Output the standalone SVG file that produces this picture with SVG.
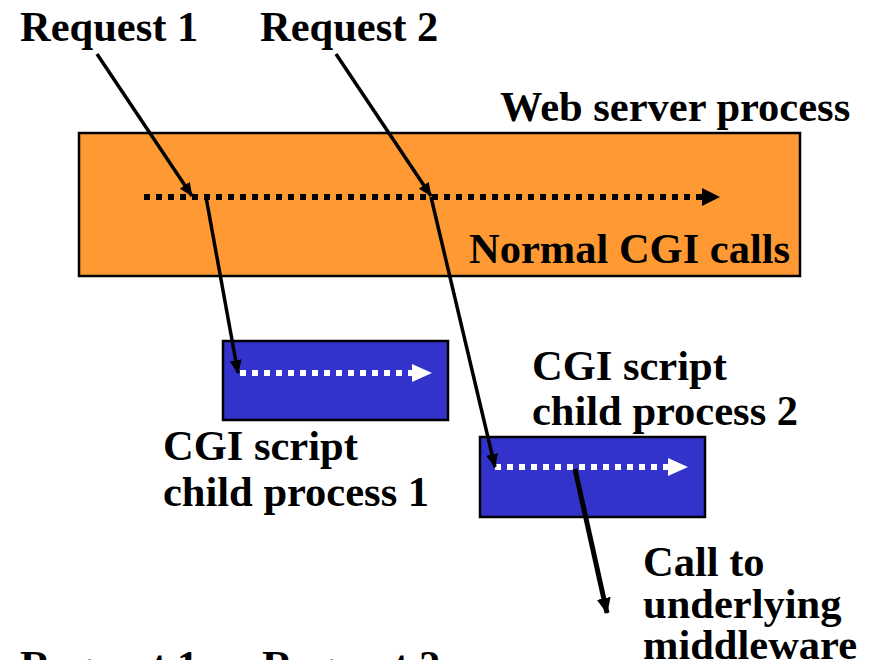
<svg xmlns="http://www.w3.org/2000/svg" width="873" height="660" viewBox="0 0 873 660">
  <style>
    .lbl { font-family: "Liberation Serif", "Times New Roman", serif; font-weight: bold; font-size: 42.5px; fill: #000; }
    .box { stroke: #000; stroke-width: 2.5; }
    .server { fill: #FF9933; }
    .child { fill: #3333CC; }
    .flow-k { stroke: #000; stroke-width: 6; stroke-dasharray: 6 6; fill: none; }
    .flow-w { stroke: #fff; stroke-width: 6; stroke-dasharray: 6 6; fill: none; }
    .call { stroke: #000; stroke-width: 3.5; fill: none; marker-end: url(#head); }
    .call-thick { stroke: #000; stroke-width: 5; fill: none; marker-end: url(#head-big); }
  </style>
  <defs>
    <marker id="head" markerUnits="userSpaceOnUse" markerWidth="14" markerHeight="12" refX="13" refY="6" orient="auto">
      <path d="M0,0 L14,6 L0,12 z" fill="#000"/>
    </marker>
    <marker id="head-big" markerUnits="userSpaceOnUse" markerWidth="16" markerHeight="14" refX="15" refY="7" orient="auto">
      <path d="M0,0 L16,7 L0,14 z" fill="#000"/>
    </marker>
  </defs>

  <rect width="873" height="660" fill="#fff"/>

  <!-- web server process -->
  <g id="web-server">
    <rect class="box server" x="79" y="133" width="721" height="143"/>
    <line class="flow-k" x1="144" y1="197" x2="703" y2="197"/>
    <polygon points="702,188 720,197 702,206" fill="#000"/>
    <text class="lbl" x="500" y="121">Web server process</text>
    <text class="lbl" x="469" y="263">Normal CGI calls</text>
  </g>

  <!-- CGI child process 1 -->
  <g id="child-1">
    <rect class="box child" x="223" y="341" width="225" height="79"/>
    <line class="flow-w" x1="240" y1="373" x2="413" y2="373"/>
    <polygon points="412,364 432,373 412,382" fill="#fff"/>
    <text class="lbl" x="163" y="460">CGI script</text>
    <text class="lbl" x="163" y="506">child process 1</text>
  </g>

  <!-- CGI child process 2 -->
  <g id="child-2">
    <rect class="box child" x="480" y="437" width="225" height="80"/>
    <line class="flow-w" x1="495" y1="467" x2="669" y2="467"/>
    <polygon points="668,458 688,467 668,476" fill="#fff"/>
    <text class="lbl" x="532" y="380">CGI script</text>
    <text class="lbl" x="532" y="425">child process 2</text>
  </g>

  <!-- request labels -->
  <g id="request-1">
    <text class="lbl" x="20" y="41">Request 1</text>
  </g>
  <g id="request-2">
    <text class="lbl" x="260" y="41">Request 2</text>
  </g>
  <g id="request-1-next">
    <text class="lbl" x="20" y="680">Request 1</text>
  </g>
  <g id="request-2-next">
    <text class="lbl" x="262" y="680">Request 2</text>
  </g>

  <!-- middleware label -->
  <g id="middleware">
    <text class="lbl" x="643" y="576">Call to</text>
    <text class="lbl" x="643" y="618">underlying</text>
    <text class="lbl" x="643" y="659">middleware</text>
  </g>

  <!-- connectors -->
  <g id="connectors">
    <line class="call" x1="97" y1="54" x2="192" y2="196"/>
    <line class="call" x1="336" y1="54" x2="431" y2="196"/>
    <line class="call" x1="206" y1="197" x2="238" y2="373"/>
    <line class="call" x1="431" y1="197" x2="495" y2="467"/>
    <line class="call-thick" x1="575" y1="469" x2="607" y2="613"/>
  </g>
</svg>
